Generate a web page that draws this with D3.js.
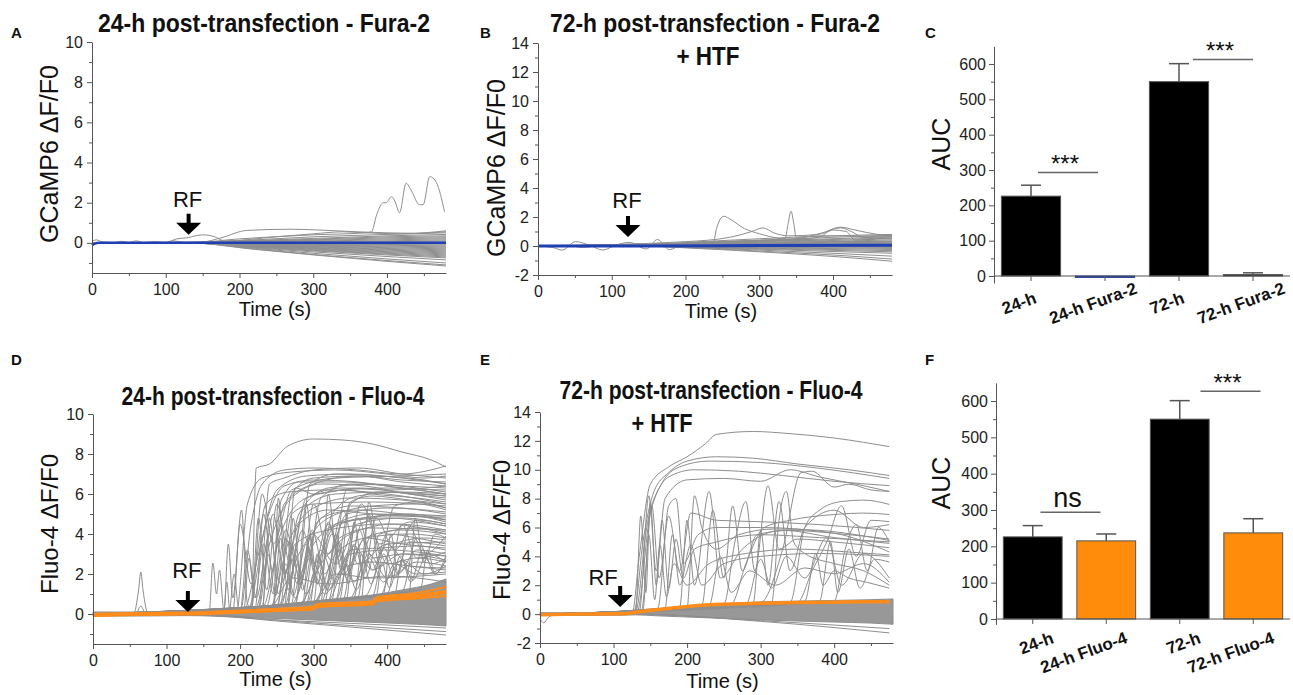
<!DOCTYPE html>
<html>
<head>
<meta charset="utf-8">
<script src="https://cdn.jsdelivr.net/npm/d3@7"></script>
<style>
  body { margin: 0; background: #fff; }
  svg { font-family: 'Liberation Sans', Arial, sans-serif; }
  .axis path, .axis line { stroke: #555; }
  .axis text { fill: #222; font-size: 16px; font-family: 'Liberation Sans', Arial, sans-serif; }
</style>
</head>
<body>
<svg id="fig" width="1293" height="695"></svg>
<script>
// ---------- data ----------
var timeTicks = [0, 100, 200, 300, 400];
var timeMinor = [50, 150, 250, 350, 450];
var fanT = [0, 130, 220, 300, 400, 480];

// A: 24-h Fura-2, GCaMP6 traces
var aFan = [
  [0, 0.02, 0.15, 0.3, 0.42, 0.5], [0, 0.02, 0.12, 0.22, 0.35, 0.42], [0, 0.01, 0.1, 0.18, 0.3, 0.35],
  [0, 0.01, 0.08, 0.15, 0.25, 0.3], [0, 0, 0.06, 0.12, 0.2, 0.25], [0, 0, 0.05, 0.09, 0.15, 0.2],
  [0, 0, 0.03, 0.06, 0.1, 0.15], [0, 0, 0.02, 0.04, 0.06, 0.1], [0, 0, 0, 0.02, 0.03, 0.05],
  [0, 0, -0.02, -0.03, -0.04, -0.05], [0, 0, -0.03, -0.06, -0.08, -0.1], [0, 0, -0.04, -0.08, -0.12, -0.15],
  [0, 0, -0.05, -0.1, -0.16, -0.2], [0, 0, -0.06, -0.12, -0.2, -0.25], [0, 0, -0.08, -0.15, -0.24, -0.3],
  [0, 0, -0.09, -0.18, -0.28, -0.35], [0, 0, -0.1, -0.2, -0.32, -0.4], [0, 0, -0.12, -0.23, -0.36, -0.45],
  [0, 0, -0.13, -0.26, -0.4, -0.5], [0, 0, -0.15, -0.28, -0.44, -0.55], [0, 0, -0.16, -0.31, -0.48, -0.6],
  [0, 0, -0.18, -0.34, -0.52, -0.65], [0, 0, -0.2, -0.37, -0.56, -0.7], [0, 0, -0.22, -0.4, -0.6, -0.75],
  [0, 0, -0.24, -0.45, -0.68, -0.85], [0, 0, -0.27, -0.52, -0.8, -1.0], [0, 0, -0.3, -0.58, -0.88, -1.1],
  [0, 0, -0.32, -0.6, -0.92, -1.15]
];
var aTraces = [
  [[0, 0], [130, 0], [200, 0.2], [300, 0.4], [370, 0.5], [379, 0.55], [386, 1.4], [395, 2.0], [399, 2.0], [406, 2.3],
   [411, 2.05], [417, 1.5], [426, 2.97], [433, 2.6], [444, 1.9], [449, 1.9], [458, 3.3], [467, 3.0], [478, 1.55]],
  [[0, 0], [150, 0.05], [175, 0.25], [210, 0.62], [270, 0.68], [320, 0.62], [360, 0.55], [400, 0.5], [440, 0.48], [480, 0.55]],
  [[0, 0], [100, 0.02], [115, 0.2], [128, 0.25], [150, 0.4], [165, 0.32], [180, 0.1], [250, 0.3], [300, 0.45], [340, 0.55], [370, 0.5], [420, 0.45], [480, 0.6]],
  [[0, 0.08], [6, 0.15], [14, 0.05], [30, 0.02], [40, 0.08], [50, 0.02], [60, 0.1], [70, 0.02], [85, 0.06], [100, 0.02], [110, 0.1], [120, 0.05], [130, 0]]
];
var aMean = [[0, -0.12], [3, -0.05], [10, 0], [240, 0], [480, 0]];

// B: 72-h Fura-2 + HTF, GCaMP6 traces
var bFan = [
  [0, 0.02, 0.3, 0.5, 0.7, 0.8], [0, 0.02, 0.25, 0.4, 0.6, 0.75], [0, 0.02, 0.2, 0.35, 0.5, 0.65],
  [0, 0.01, 0.15, 0.3, 0.45, 0.55], [0, 0.01, 0.12, 0.25, 0.38, 0.5], [0, 0.01, 0.1, 0.2, 0.32, 0.42],
  [0, 0, 0.08, 0.16, 0.26, 0.35], [0, 0, 0.06, 0.12, 0.2, 0.28], [0, 0, 0.04, 0.08, 0.15, 0.2],
  [0, 0, 0.02, 0.05, 0.1, 0.12], [0, 0, 0.01, 0.02, 0.04, 0.05], [0, 0, -0.01, -0.02, -0.03, -0.04],
  [0, 0, -0.02, -0.05, -0.08, -0.1], [0, 0, -0.03, -0.08, -0.13, -0.17], [0, 0, -0.05, -0.11, -0.18, -0.24],
  [0, 0, -0.06, -0.14, -0.24, -0.32], [0, 0, -0.08, -0.18, -0.3, -0.4], [0, 0, -0.1, -0.22, -0.38, -0.5],
  [0, 0, -0.12, -0.28, -0.5, -0.7], [0, 0, -0.15, -0.35, -0.62, -0.9], [0, 0, -0.18, -0.4, -0.72, -1.05]
];
var bTraces = [
  [[0, 0], [20, -0.1], [33, -0.28], [51, 0.3], [70, 0.05], [88, -0.28], [105, 0.05], [124, 0.25], [147, -0.2], [162, 0.45], [178, -0.25], [195, 0.05], [230, 0.1], [300, 0.2], [400, 0.3], [480, 0.3]],
  [[0, 0], [40, 0.05], [60, -0.1], [95, 0.1], [115, -0.05], [135, 0.15], [150, 0], [175, 0.1], [250, 0.15], [480, 0.2]],
  [[0, 0], [150, 0.05], [238, 0.3], [242, 1.2], [252, 2.05], [262, 1.8], [280, 1.2], [300, 0.85], [330, 0.5], [360, 0.4], [400, 0.3], [480, 0.2]],
  [[0, 0], [200, 0.2], [300, 0.4], [335, 0.5], [339, 1.5], [343, 2.4], [347, 1.5], [350, 0.6], [380, 0.7], [420, 0.7], [480, 0.6]],
  [[0, 0], [200, 0.3], [260, 0.6], [290, 1.0], [305, 1.25], [320, 0.9], [340, 0.7], [380, 0.8], [410, 1.3], [430, 1.1], [460, 0.8], [480, 0.7]],
  [[0, 0], [250, 0.3], [350, 0.5], [385, 0.9], [410, 1.25], [425, 1.0], [440, 0.6], [480, 0.5]],
  [[0, 0], [300, 0.3], [380, 0.6], [400, 1.1], [418, 1.0], [430, 0.4], [480, 0.7]]
];
var bMean = [[0, 0], [150, 0], [300, 0.03], [480, 0.06]];

// D: 24-h Fluo-4 traces
var dBandT = [0, 60, 130, 180, 220, 260, 300, 340, 380, 420, 460, 480];
var dBandHi = [0.1, 0.1, 0.08, 0.15, 0.35, 0.5, 0.65, 0.8, 0.95, 1.2, 1.5, 1.75];
var dBandLo = [-0.1, -0.1, -0.08, -0.12, -0.18, -0.24, -0.3, -0.36, -0.42, -0.48, -0.55, -0.6];
var dTraces = [
  [[0, 0], [215, 0.1], [222, 7.3], [240, 7.5], [265, 8.4], [300, 8.75], [340, 8.7], [380, 8.5], [420, 8.1], [460, 7.7], [480, 7.35]],
  [[0, 0], [200, 0.1], [215, 4.5], [230, 6.5], [260, 7.2], [300, 7.3], [360, 7.2], [420, 7.0], [480, 7.4]],
  [[0, 0], [195, 0.1], [210, 5.5], [230, 6.8], [270, 7.1], [330, 7.2], [400, 7.0], [450, 6.8], [480, 6.9]],
  [[0, 0], [205, 0.2], [225, 3], [250, 6.2], [290, 6.9], [350, 7.0], [420, 6.8], [480, 6.5]],
  [[0, 0], [210, 0.2], [235, 4.5], [260, 6.4], [300, 6.7], [360, 6.6], [420, 6.3], [480, 6.2]],
  [[0, 0], [220, 0.2], [240, 3.5], [270, 5.8], [310, 6.5], [370, 6.4], [430, 6.0], [480, 5.8]],
  [[0, 0], [190, 0.1], [200, 4.5], [215, 1.5], [235, 5.5], [265, 6.1], [320, 6.2], [400, 6.0], [480, 5.5]],
  [[0, 0], [230, 0.3], [255, 4], [290, 5.8], [340, 6.2], [400, 6.3], [480, 6.0]],
  [[0, 0], [240, 0.3], [265, 3.5], [300, 5.3], [350, 5.8], [420, 5.7], [480, 5.3]],
  [[0, 0], [250, 0.4], [280, 3], [320, 4.8], [380, 5.4], [440, 5.5], [480, 5.2]],
  [[0, 0], [225, 0.3], [245, 5], [260, 2], [280, 4.5], [320, 5.2], [380, 5.0], [480, 4.8]],
  [[0, 0], [260, 0.4], [285, 4.2], [300, 2.5], [330, 4.5], [380, 5.0], [440, 4.9], [480, 4.6]],
  [[0, 0], [270, 0.5], [300, 3.5], [340, 4.6], [400, 4.8], [480, 4.4]],
  [[0, 0], [280, 0.5], [310, 2.5], [350, 4.0], [410, 4.5], [480, 4.2]],
  [[0, 0], [290, 0.5], [320, 4.5], [340, 2], [370, 3.8], [420, 4.2], [480, 4.0]],
  [[0, 0], [300, 0.6], [330, 3], [370, 3.8], [430, 4.0], [480, 3.8]],
  [[0, 0], [310, 0.6], [340, 5.2], [360, 2.5], [400, 3.5], [480, 3.6]],
  [[0, 0], [320, 0.7], [350, 3.2], [390, 3.3], [440, 3.4], [480, 3.2]],
  [[0, 0], [330, 0.7], [360, 4.8], [380, 2.8], [420, 3.0], [480, 2.9]],
  [[0, 0], [350, 0.8], [380, 4.0], [400, 2.5], [440, 2.8], [480, 2.6]],
  [[0, 0], [370, 0.9], [400, 3.5], [430, 2.4], [480, 2.3]],
  [[0, 0], [200, 0.15], [210, 3.2], [222, 0.8], [240, 4.0], [255, 1.5], [275, 3.5], [320, 4.2], [400, 4.5], [480, 4.0]],
  [[0, 0], [230, 0.2], [240, 4.8], [252, 1.0], [270, 5.0], [300, 5.5], [380, 5.6], [480, 5.4]],
  [[0, 0], [245, 0.3], [255, 3.8], [265, 1.2], [285, 5.2], [330, 6.0], [400, 6.1], [480, 5.9]],
  [[0, 0], [265, 0.4], [275, 3.0], [285, 1.2], [305, 4.6], [350, 5.4], [420, 5.3], [480, 5.0]],
  [[0, 0], [275, 0.5], [290, 5.5], [302, 2.0], [320, 4.2], [370, 4.8], [430, 5.0], [480, 4.7]],
  [[0, 0], [295, 0.5], [305, 3.0], [318, 1.5], [335, 3.8], [380, 4.3], [480, 4.2]],
  [[0, 0], [315, 0.6], [330, 4.0], [345, 1.8], [365, 4.5], [410, 5.0], [480, 4.9]],
  [[0, 0], [340, 0.7], [355, 3.5], [370, 1.8], [390, 4.0], [440, 4.3], [480, 4.1]],
  [[0, 0], [360, 0.8], [375, 5.0], [390, 2.4], [410, 3.5], [450, 3.8], [480, 3.7]],
  [[0, 0], [380, 0.9], [395, 3.0], [410, 1.8], [430, 3.6], [480, 3.4]],
  [[0, 0], [400, 1.0], [420, 4.5], [440, 2.8], [480, 3.1]],
  [[0, 0], [420, 1.1], [440, 3.8], [460, 2.5], [480, 2.8]],
  [[0, 0], [235, 0.3], [260, 5.5], [300, 6.5], [360, 6.9], [420, 6.7], [480, 6.6]],
  [[0, 0], [255, 0.4], [280, 5.0], [320, 6.3], [380, 6.5], [440, 6.3], [480, 6.1]],
  [[0, 0], [285, 0.5], [310, 5.8], [350, 6.5], [420, 6.4], [480, 6.3]],
  [[0, 0], [215, 0.2], [230, 6.0], [245, 3.5], [270, 6.2], [330, 6.8], [420, 6.9], [480, 7.0]],
  [[0, 0], [320, 0.7], [345, 6.2], [380, 6.0], [440, 5.8], [480, 5.6]],
  [[0, 0], [55, 0], [62, 1.2], [65, 2.1], [68, 1.2], [75, 0], [130, 0]],
  [[0, 0], [58, 0], [65, 0.4], [72, 0], [130, 0]],
  [[120, 0], [158, 0.1], [163, 2.55], [168, 1.0], [172, 2.2], [178, 0.2], [182, 1.6], [186, 0.2], [200, 0.1]],
  [[150, 0], [178, 0.1], [184, 3.5], [190, 0.8], [202, 5.2], [210, 0.5], [220, 0.2]],
  [[150, 0], [185, 0.1], [192, 2.0], [198, 0.3], [215, 0.2]],
  [[0, 0], [390, 0.9], [410, 2.5], [440, 2.0], [480, 2.1]],
  [[0, 0], [250, 0.3], [262, 2.5], [275, 0.8], [295, 2.8], [320, 1.2], [350, 3.0], [400, 3.2], [480, 2.9]],
  [[0, 0], [300, 0.6], [330, 2.0], [380, 1.8], [480, 2.0]],
  [[0, 0], [240, 0.3], [270, 1.8], [320, 1.5], [400, 1.9], [480, 1.6]],
  [[0, 0], [205, 0.2], [212, 2.8], [220, 0.8], [232, 3.5], [245, 1.0], [262, 4.2], [280, 2.0], [310, 4.8], [360, 5.2], [420, 5.0], [480, 4.7]],
  [[0, 0], [215, 0.2], [225, 4.8], [236, 1.2], [250, 5.5], [268, 2.5], [290, 5.8], [340, 6.3], [400, 6.2], [480, 6.4]],
  [[0, 0], [230, 0.3], [238, 3.0], [248, 0.9], [262, 3.8], [278, 1.5], [298, 4.0], [330, 2.5], [360, 4.5], [420, 4.8], [480, 4.5]],
  [[0, 0], [245, 0.3], [252, 5.8], [262, 2.0], [275, 6.3], [300, 6.0], [360, 6.3], [430, 6.0], [480, 5.7]],
  [[0, 0], [255, 0.4], [262, 2.2], [272, 0.9], [290, 3.5], [305, 1.5], [325, 4.0], [345, 2.0], [370, 3.8], [420, 3.5], [480, 3.3]],
  [[0, 0], [265, 0.4], [272, 4.8], [283, 1.8], [300, 5.5], [320, 3.0], [345, 5.0], [400, 5.3], [480, 5.1]],
  [[0, 0], [270, 0.5], [278, 2.5], [290, 1.0], [310, 3.2], [330, 1.6], [355, 3.4], [380, 2.2], [420, 3.0], [480, 2.7]],
  [[0, 0], [285, 0.5], [295, 4.0], [305, 1.5], [320, 4.6], [340, 2.2], [365, 5.5], [390, 3.5], [430, 4.6], [480, 4.4]],
  [[0, 0], [300, 0.6], [308, 2.8], [318, 1.2], [335, 3.2], [355, 1.6], [375, 3.0], [400, 1.8], [440, 2.6], [480, 2.4]],
  [[0, 0], [310, 0.6], [320, 6.0], [332, 2.8], [350, 5.6], [380, 5.9], [430, 5.7], [480, 5.5]],
  [[0, 0], [325, 0.7], [335, 3.6], [347, 1.5], [362, 4.2], [380, 2.2], [400, 4.0], [440, 3.8], [480, 3.5]],
  [[0, 0], [335, 0.7], [345, 2.5], [358, 1.2], [375, 2.8], [395, 1.6], [420, 2.7], [450, 2.0], [480, 2.4]],
  [[0, 0], [345, 0.8], [355, 4.6], [368, 2.0], [385, 4.8], [410, 3.2], [440, 4.7], [480, 4.5]],
  [[0, 0], [355, 0.8], [365, 3.0], [378, 1.5], [395, 3.3], [415, 2.0], [440, 3.2], [480, 3.0]],
  [[0, 0], [365, 0.8], [375, 5.6], [390, 3.0], [410, 5.4], [440, 5.6], [480, 5.3]],
  [[0, 0], [385, 0.9], [393, 2.6], [403, 1.3], [418, 2.9], [435, 1.7], [455, 3.0], [480, 2.6]],
  [[0, 0], [395, 1.0], [405, 4.0], [415, 2.0], [430, 4.4], [450, 3.0], [480, 3.9]],
  [[0, 0], [410, 1.0], [420, 2.7], [432, 1.6], [448, 3.2], [465, 2.0], [480, 2.9]],
  [[0, 0], [430, 1.1], [438, 4.8], [450, 2.6], [465, 4.0], [480, 3.8]],
  [[0, 0], [445, 1.2], [455, 3.2], [465, 2.0], [480, 2.7]],
  [[0, 0], [225, 0.3], [240, 6.5], [260, 6.8], [300, 7.2], [360, 7.3], [420, 7.0], [480, 6.8]],
  [[0, 0], [250, 0.4], [270, 6.0], [300, 6.8], [360, 6.9], [420, 6.6], [480, 6.4]],
  [[0, 0], [275, 0.5], [295, 6.5], [330, 7.0], [390, 6.9], [450, 6.7], [480, 6.5]],
  [[0, 0], [305, 0.6], [325, 5.0], [360, 5.9], [420, 6.1], [480, 6.0]],
  [[0, 0], [330, 0.7], [350, 5.5], [390, 6.1], [440, 6.0], [480, 5.9]],
  [[0, 0], [220, 0.2], [232, 5.0], [244, 2.2], [256, 5.7], [280, 6.6], [340, 6.6], [420, 6.3], [480, 6.0]],
  [[0, 0], [260, 0.4], [270, 3.5], [282, 1.4], [298, 4.2], [315, 2.0], [340, 4.6], [400, 4.9], [480, 4.9]],
  [[0, 0], [290, 0.5], [300, 2.0], [315, 1.0], [340, 2.3], [380, 2.6], [430, 2.4], [480, 2.2]],
  [[0, 0], [130, 0], [250, -0.35], [350, -0.65], [480, -1.05]],
  [[0, 0], [130, 0], [300, -0.45], [480, -0.88]],
  [[0, 0], [130, -0.05], [250, -0.3], [400, -0.55], [480, -0.7]]
];
var dMeanT = [0, 60, 130, 200, 250, 300, 305, 380, 385, 440, 480];
var dMeanHi = [0, 0.03, 0.05, 0.16, 0.25, 0.36, 0.5, 0.62, 0.82, 1.05, 1.35];
var dMean = [-0.05, 0, 0.02, 0.12, 0.2, 0.3, 0.42, 0.55, 0.72, 0.9, 1.1];
var dMeanLo = [-0.1, -0.02, 0, 0.08, 0.15, 0.24, 0.35, 0.48, 0.62, 0.78, 0.9];

// E: 72-h Fluo-4 + HTF traces
var eBandT = [0, 110, 130, 160, 200, 250, 300, 350, 400, 450, 480];
var eBandHi = [0.1, 0.08, 0.15, 0.3, 0.5, 0.7, 0.85, 0.9, 0.95, 1.0, 1.05];
var eBandLo = [-0.1, -0.08, -0.05, -0.12, -0.2, -0.3, -0.4, -0.48, -0.55, -0.62, -0.7];
var eTraces = [
  [[0, 0], [125, 0], [135, 4], [150, 9], [175, 10.2], [200, 10.9], [225, 11.8], [240, 12.45], [290, 12.65], [340, 12.5], [400, 12.2], [440, 11.9], [475, 11.6]],
  [[0, 0], [128, 0.2], [140, 5], [155, 8.5], [175, 9.8], [200, 10.6], [240, 10.9], [290, 10.8], [350, 10.4], [420, 10.0], [475, 9.6]],
  [[0, 0], [130, 0.2], [145, 6], [165, 9], [190, 10.2], [230, 10.6], [300, 10.5], [380, 10.1], [475, 9.4]],
  [[0, 0], [132, 0.2], [150, 7], [175, 9.5], [210, 10.0], [270, 9.9], [330, 9.6], [400, 9.2], [475, 8.9]],
  [[0, 0], [135, 0.2], [148, 8.2], [158, 3], [170, 8.0], [200, 9.3], [250, 9.4], [300, 9.2], [340, 10.0], [380, 9.5], [430, 9.0], [475, 8.5]],
  [[0, 0], [138, 0.3], [152, 7.5], [162, 2.5], [175, 6.8], [190, 3.0], [205, 7.0], [240, 6.5], [300, 6.4], [380, 6.2], [475, 5.8]],
  [[0, 0], [130, 0.2], [137, 6.8], [144, 1.5], [150, 7.8], [158, 2.0], [166, 6.5], [175, 1.8], [185, 5.2], [195, 2.5], [210, 4.5], [240, 5.0], [300, 5.5], [380, 5.3], [475, 5.0]],
  [[0, 0], [140, 0.3], [148, 5.5], [156, 1.0], [163, 4.8], [172, 1.2], [182, 3.5], [200, 2.0], [230, 3.5], [280, 4.2], [350, 4.5], [420, 4.3], [475, 4.1]],
  [[0, 0], [200, 0.5], [210, 8.2], [220, 6.0], [240, 4.5], [270, 5.5], [320, 5.9], [380, 5.8], [430, 5.5], [475, 5.1]],
  [[0, 0], [220, 0.6], [235, 7.2], [250, 2.5], [262, 7.5], [275, 3.0], [295, 5.5], [340, 5.8], [400, 5.6], [475, 5.2]],
  [[0, 0], [250, 0.7], [265, 5.0], [280, 7.8], [292, 3.0], [310, 8.9], [325, 4.5], [350, 5.2], [400, 5.0], [475, 4.6]],
  [[0, 0], [300, 0.8], [330, 4.5], [355, 9.8], [370, 9.9], [400, 8.8], [420, 9.0], [450, 8.6], [475, 8.5]],
  [[0, 0], [340, 0.8], [360, 6.0], [380, 7.2], [410, 7.8], [440, 7.9], [475, 7.6]],
  [[0, 0], [260, 0.7], [280, 3.5], [305, 6.0], [340, 6.5], [400, 6.9], [440, 7.0], [475, 6.9]],
  [[0, 0], [350, 0.8], [370, 3.0], [390, 5.0], [410, 7.5], [430, 4.0], [450, 6.5], [475, 6.4]],
  [[0, 0], [230, 0.6], [245, 4.0], [260, 1.5], [285, 3.0], [320, 2.0], [360, 3.2], [400, 2.8], [440, 3.5], [475, 2.2]],
  [[0, 0], [280, 0.7], [300, 3.8], [315, 1.8], [335, 4.0], [360, 2.5], [390, 5.3], [410, 2.0], [440, 4.2], [475, 2.5]],
  [[0, 0], [380, 0.9], [395, 5.0], [405, 1.5], [420, 4.5], [435, 1.8], [455, 3.8], [475, 3.6]],
  [[0, 0], [160, 0.4], [175, 7.5], [185, 8.0], [195, 3.5], [215, 5.5], [240, 6.0], [300, 6.0], [400, 5.6], [475, 4.3]],
  [[0, 0], [170, 0.4], [180, 5.5], [190, 2.0], [205, 4.8], [220, 2.0], [250, 3.5], [300, 4.0], [380, 4.2], [475, 4.0]],
  [[0, 0], [315, 0.8], [325, 6.5], [335, 8.5], [345, 5.0], [360, 4.2], [400, 3.5], [440, 3.0], [475, 2.0]],
  [[0, 0], [400, 0.9], [415, 4.5], [430, 6.2], [445, 3.0], [460, 6.0], [475, 5.0]],
  [[0, 0], [290, 0.8], [300, 5.8], [310, 2.0], [325, 7.8], [340, 3.0], [360, 6.0], [400, 7.2], [440, 6.0], [475, 6.2]],
  [[0, 0], [190, 0.5], [200, 6.5], [210, 2.0], [230, 8.5], [245, 2.5], [275, 4.5], [330, 5.8], [400, 5.3], [475, 4.9]],
  [[0, 0], [360, 0.9], [375, 4.2], [385, 2.0], [400, 3.0], [420, 2.5], [445, 2.2], [475, 1.8]],
  [[0, -0.3], [5, -0.6], [12, -0.2], [25, 0], [130, 0]],
  [[0, 0], [130, 0], [300, -0.5], [475, -1.3]],
  [[0, 0], [130, 0], [300, -0.45], [475, -1.0]]
];
var eMeanT = [0, 50, 110, 140, 170, 200, 220, 260, 300, 350, 400, 440, 475];
var eMean = [-0.05, 0, 0.02, 0.2, 0.38, 0.52, 0.62, 0.7, 0.76, 0.8, 0.83, 0.85, 0.85];

// C and F: AUC bars
var cCats = ['24-h', '24-h Fura-2', '72-h', '72-h Fura-2'];
var cMeans = [226, -4, 550, 4];
var cErrs = [31, 0, 51, 5];
var cFills = ['#000', '#23409a', '#000', '#000'];
var fCats = ['24-h', '24-h Fluo-4', '72-h', '72-h Fluo-4'];
var fMeans = [226, 215, 550, 237];
var fErrs = [31, 19, 51, 39];
var fFills = ['#000', '#ff8c0a', '#000', '#ff8c0a'];
var aucTicks = [0, 100, 200, 300, 400, 500, 600];
var aucMinor = [50, 150, 250, 350, 450, 550];

var svg = d3.select('#fig');
var grey = '#8e8e8e';

function tracePanel(cfg) {
  var x = d3.scaleLinear().domain([0, 480]).range([cfg.left, cfg.right]);
  var y = d3.scaleLinear().domain(cfg.yDomain).range([cfg.bottom, cfg.top]);
  var g = svg.append('g');
  var line = d3.line()
    .x(function (d) { return x(d[0]); })
    .y(function (d) { return y(d[1]); })
    .curve(d3.curveMonotoneX);

  if (cfg.band) {
    var area = d3.area()
      .x(function (d, i) { return x(cfg.band.t[i]); })
      .y0(function (d, i) { return y(cfg.band.lo[i]); })
      .y1(function (d, i) { return y(cfg.band.hi[i]); })
      .curve(d3.curveMonotoneX);
    g.append('path').datum(cfg.band.t).attr('d', area)
      .attr('fill', '#989898').attr('stroke', grey).attr('stroke-width', 1);
  }

  (cfg.fan || []).forEach(function (vals) {
    g.append('path')
      .datum(vals.map(function (v, i) { return [fanT[i], v]; }))
      .attr('d', line).attr('fill', 'none').attr('stroke', grey).attr('stroke-width', 1);
  });
  cfg.traces.forEach(function (tr) {
    g.append('path').datum(tr).attr('d', line)
      .attr('fill', 'none').attr('stroke', grey).attr('stroke-width', 1);
  });
  cfg.means.forEach(function (m) {
    g.append('path').datum(m.pts).attr('d', line)
      .attr('fill', 'none').attr('stroke', m.color).attr('stroke-width', m.width);
  });

  // axes
  g.append('g').attr('class', 'axis').attr('transform', 'translate(' + cfg.left + ',0)')
    .call(d3.axisLeft(y).tickValues(cfg.yTicks).tickSize(5).tickSizeOuter(0).tickPadding(4).tickFormat(String));
  g.append('g').attr('class', 'axis').attr('transform', 'translate(' + cfg.left + ',0)')
    .call(d3.axisLeft(y).tickValues(cfg.yMinor).tickSize(3).tickFormat(''))
    .select('.domain').remove();
  g.append('g').attr('class', 'axis').attr('transform', 'translate(0,' + cfg.bottom + ')')
    .call(d3.axisBottom(x).tickValues(timeTicks).tickSize(5).tickSizeOuter(0).tickPadding(6));
  g.append('g').attr('class', 'axis').attr('transform', 'translate(0,' + cfg.bottom + ')')
    .call(d3.axisBottom(x).tickValues(timeMinor).tickSize(3).tickFormat(''))
    .select('.domain').remove();

  // RF arrow
  var tx = x(cfg.rf[0]), ty = y(cfg.rf[1]);
  g.append('path')
    .attr('d', 'M' + (tx - 12.5) + ',' + (ty - 12) + 'L' + (tx + 12.5) + ',' + (ty - 12) + 'L' + tx + ',' + ty + 'Z' +
      'M' + (tx - 2) + ',' + (ty - 21) + 'L' + (tx + 2) + ',' + (ty - 21) + 'L' + (tx + 2) + ',' + (ty - 11) + 'L' + (tx - 2) + ',' + (ty - 11) + 'Z')
    .attr('fill', '#000');
  g.append('text').attr('x', tx + cfg.rfDx).attr('y', ty + cfg.rfDy)
    .attr('text-anchor', 'middle').attr('font-size', 22).attr('fill', '#111').text('RF');

  // labels
  g.append('text').attr('x', (cfg.left + cfg.right) / 2 + 6).attr('y', cfg.xLabelY)
    .attr('text-anchor', 'middle').attr('font-size', 20).attr('fill', '#111').text('Time (s)');
  g.append('text').attr('transform', 'translate(' + cfg.yLabel[0] + ',' + cfg.yLabel[1] + ') rotate(-90)')
    .attr('text-anchor', 'middle').attr('font-size', cfg.yLabelSize).attr('fill', '#111').text(cfg.yLabelText);
  cfg.title.forEach(function (t) {
    g.append('text').attr('x', t.x).attr('y', t.y).attr('text-anchor', 'middle')
      .attr('font-family', "'Liberation Sans Narrow', 'Liberation Sans', Arial, sans-serif")
      .attr('font-weight', 'bold').attr('font-size', 25).attr('fill', '#111')
      .attr('textLength', t.w).attr('lengthAdjust', 'spacingAndGlyphs').text(t.text);
  });
  g.append('text').attr('x', cfg.letter[0]).attr('y', cfg.letter[1])
    .attr('font-weight', 'bold').attr('font-size', 15).attr('fill', '#111').text(cfg.letter[2]);
}

function barPanel(cfg) {
  var x = d3.scaleBand().domain(cfg.cats).range([cfg.left, cfg.right]).paddingInner(0.2).paddingOuter(0.1);
  var y = d3.scaleLinear().domain(cfg.yDomain).range([cfg.bottom, cfg.top]);
  var g = svg.append('g');
  var y0 = y(0);

  cfg.cats.forEach(function (c, i) {
    var v = cfg.means[i];
    g.append('rect')
      .attr('x', x(c)).attr('width', x.bandwidth())
      .attr('y', Math.min(y(v), y0)).attr('height', Math.max(1.2, Math.abs(y(v) - y0)))
      .attr('fill', cfg.fills[i]).attr('stroke', cfg.fills[i] === '#23409a' ? '#23409a' : '#555')
      .attr('stroke-width', 1);
    if (cfg.errs[i] > 0) {
      var cx = x(c) + x.bandwidth() / 2;
      g.append('line').attr('x1', cx).attr('x2', cx).attr('y1', y(v)).attr('y2', y(v + cfg.errs[i]))
        .attr('stroke', '#555').attr('stroke-width', 1.5);
      g.append('line').attr('x1', cx - 10).attr('x2', cx + 10).attr('y1', y(v + cfg.errs[i])).attr('y2', y(v + cfg.errs[i]))
        .attr('stroke', '#555').attr('stroke-width', 1.5);
    }
  });

  // axes
  g.append('g').attr('class', 'axis').attr('transform', 'translate(' + cfg.left + ',0)')
    .call(d3.axisLeft(y).tickValues(aucTicks).tickSize(5).tickSizeOuter(0).tickPadding(3));
  g.append('g').attr('class', 'axis').attr('transform', 'translate(' + cfg.left + ',0)')
    .call(d3.axisLeft(y).tickValues(aucMinor).tickSize(3).tickFormat(''))
    .select('.domain').remove();
  g.append('line').attr('x1', cfg.left).attr('x2', cfg.right).attr('y1', y0).attr('y2', y0)
    .attr('stroke', '#555').attr('stroke-width', 1.2);
  cfg.cats.forEach(function (c, i) {
    var cx = x(c) + x.bandwidth() / 2;
    g.append('line').attr('x1', cx).attr('x2', cx).attr('y1', y0).attr('y2', y0 + 5).attr('stroke', '#555');
    g.append('text')
      .attr('transform', 'translate(' + (cx + cfg.labelDx) + ',' + cfg.labelY + ') rotate(-20)')
      .attr('text-anchor', cfg.labelAnchor).attr('dy', '0.35em')
      .attr('font-weight', 'bold').attr('font-size', 17).attr('fill', '#111').text(c);
  });

  // significance bars
  cfg.sig.forEach(function (s) {
    var xm = (x(cfg.cats[s.a]) + x.bandwidth() + x(cfg.cats[s.b])) / 2 + s.dx;
    g.append('line').attr('x1', xm - 30).attr('x2', xm + 30).attr('y1', y(s.v)).attr('y2', y(s.v))
      .attr('stroke', '#666').attr('stroke-width', 1.5);
    g.append('text').attr('x', xm - 3).attr('y', y(s.v) - (s.label === 'ns' ? 5 : 0))
      .attr('text-anchor', 'middle').attr('font-size', s.label === 'ns' ? 27 : 24).attr('fill', '#111').text(s.label);
  });

  g.append('text').attr('transform', 'translate(' + cfg.yLabel[0] + ',' + cfg.yLabel[1] + ') rotate(-90)')
    .attr('text-anchor', 'middle').attr('font-size', 25).attr('fill', '#111').text('AUC');
  g.append('text').attr('x', cfg.letter[0]).attr('y', cfg.letter[1])
    .attr('font-weight', 'bold').attr('font-size', 15).attr('fill', '#111').text(cfg.letter[2]);
}

tracePanel({
  left: 92, right: 446, top: 42, bottom: 273, yDomain: [-1.5, 10],
  yTicks: [0, 2, 4, 6, 8, 10], yMinor: [-1, 1, 3, 5, 7, 9],
  fan: aFan, traces: aTraces, means: [{ pts: aMean, color: '#1f3fb4', width: 2.5 }],
  rf: [131, 0.4], rfDx: -1, rfDy: -28, xLabelY: 316,
  yLabel: [58, 154], yLabelSize: 25, yLabelText: 'GCaMP6 \u0394F/F0',
  title: [{ x: 264, y: 32, w: 332, text: '24-h post-transfection - Fura-2' }],
  letter: [11, 38, 'A']
});

tracePanel({
  left: 538, right: 892, top: 43, bottom: 275, yDomain: [-2, 14],
  yTicks: [-2, 0, 2, 4, 6, 8, 10, 12, 14], yMinor: [-1, 1, 3, 5, 7, 9, 11, 13],
  fan: bFan, traces: bTraces, means: [{ pts: bMean, color: '#1f3fb4', width: 3 }],
  rf: [122, 0.62], rfDx: -1, rfDy: -29, xLabelY: 318,
  yLabel: [505, 168], yLabelSize: 25, yLabelText: 'GCaMP6 \u0394F/F0',
  title: [{ x: 715, y: 32, w: 330, text: '72-h post-transfection - Fura-2' },
          { x: 708, y: 65, w: 63, text: '+ HTF' }],
  letter: [480, 38, 'B']
});

tracePanel({
  left: 93, right: 446, top: 414, bottom: 644, yDomain: [-1.5, 10],
  yTicks: [0, 2, 4, 6, 8, 10], yMinor: [-1, 1, 3, 5, 7, 9],
  band: { t: dBandT, hi: dBandHi, lo: dBandLo },
  traces: dTraces,
  means: [
    { pts: dMeanT.map(function (t, i) { return [t, dMeanHi[i]]; }), color: '#ff8c1a', width: 2 },
    { pts: dMeanT.map(function (t, i) { return [t, dMeanLo[i]]; }), color: '#ff8c1a', width: 2 },
    { pts: dMeanT.map(function (t, i) { return [t, dMean[i]]; }), color: '#ff8c1a', width: 4 }
  ],
  rf: [129, 0.1], rfDx: -1, rfDy: -34, xLabelY: 686,
  yLabel: [58, 524], yLabelSize: 24, yLabelText: 'Fluo-4 \u0394F/F0',
  title: [{ x: 273, y: 405, w: 303, text: '24-h post-transfection - Fluo-4' }],
  letter: [11, 365, 'D']
});

tracePanel({
  left: 540, right: 893, top: 412, bottom: 643, yDomain: [-2, 14],
  yTicks: [-2, 0, 2, 4, 6, 8, 10, 12, 14], yMinor: [-1, 1, 3, 5, 7, 9, 11, 13],
  band: { t: eBandT, hi: eBandHi, lo: eBandLo },
  traces: eTraces,
  means: [{ pts: eMeanT.map(function (t, i) { return [t, eMean[i]]; }), color: '#ff8c1a', width: 3.5 }],
  rf: [109, 0.5], rfDx: -17, rfDy: -22, xLabelY: 688,
  yLabel: [510, 530], yLabelSize: 24, yLabelText: 'Fluo-4 \u0394F/F0',
  title: [{ x: 711, y: 399, w: 303, text: '72-h post-transfection - Fluo-4' },
          { x: 662, y: 432, w: 61, text: '+ HTF' }],
  letter: [480, 365, 'E']
});

barPanel({
  cats: cCats, means: cMeans, errs: cErrs, fills: cFills,
  left: 994, right: 1290, bottom: 283.07, top: 46.33, yDomain: [-20, 650],
  labelDx: -12, labelY: 303, labelAnchor: 'middle',
  sig: [{ a: 0, b: 1, v: 293, label: '***', dx: 0 }, { a: 2, b: 3, v: 613, label: '***', dx: 7 }],
  yLabel: [950, 144], letter: [925, 38, 'C']
});

barPanel({
  cats: fCats, means: fMeans, errs: fErrs, fills: fFills,
  left: 996, right: 1290, bottom: 624.45, top: 382.83, yDomain: [-15, 650],
  labelDx: 20, labelY: 637, labelAnchor: 'end',
  sig: [{ a: 0, b: 1, v: 294, label: 'ns', dx: 1 }, { a: 2, b: 3, v: 627, label: '***', dx: 14 }],
  yLabel: [950, 483], letter: [925, 365, 'F']
});
</script>
</body>
</html>
